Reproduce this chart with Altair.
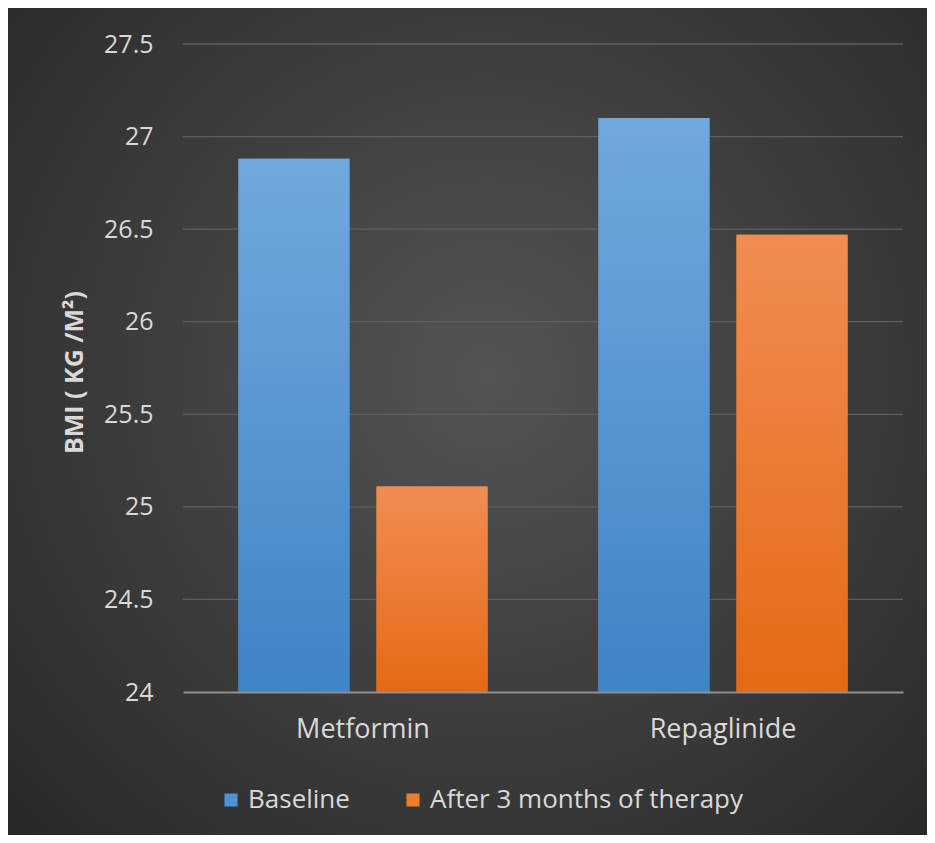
import altair as alt
import pandas as pd

# ---- data ----
drugs = ["Metformin", "Repaglinide"]
series = ["Baseline", "After 3 months of therapy"]
baseline = [26.88, 27.10]
after = [25.11, 26.47]
y_ticks = [24, 24.5, 25, 25.5, 26, 26.5, 27, 27.5]

rows = []
for i, d in enumerate(drugs):
    rows.append({"drug": d, "series": series[0], "bmi": baseline[i]})
    rows.append({"drug": d, "series": series[1], "bmi": after[i]})
df = pd.DataFrame(rows)
grid_df = pd.DataFrame({"bmi": y_ticks[1:]})
bg_df = pd.DataFrame({"one": [1]})

W, H = 720, 648
PL, PT, PR, PB = 175, 36, 24, 143
FONT = "Open Sans"
TXT = "#d9d9d9"

bg_grad = alt.RadialGradient(
    gradient="radial",
    stops=[alt.GradientStop(color="#545454", offset=0),
           alt.GradientStop(color="#262626", offset=1)],
    x1=0.52, y1=0.45, r1=0, x2=0.52, y2=0.45, r2=0.75,
)
blue_grad = alt.LinearGradient(
    gradient="linear",
    stops=[alt.GradientStop(color="#71a8dd", offset=0),
           alt.GradientStop(color="#3f84c6", offset=1)],
    x1=0, y1=0, x2=0, y2=1,
)
orange_grad = alt.LinearGradient(
    gradient="linear",
    stops=[alt.GradientStop(color="#f18c53", offset=0),
           alt.GradientStop(color="#e46a14", offset=1)],
    x1=0, y1=0, x2=0, y2=1,
)

y_enc = alt.Y(
    "bmi:Q",
    scale=alt.Scale(domain=[24, 27.5], nice=False, zero=False),
    axis=alt.Axis(
        values=y_ticks, format=".1~f", domain=False, ticks=False, grid=False,
        labelPadding=30, labelFontSize=25, labelColor=TXT, labelFont=FONT,
        title="BMI ( KG /M²)", titleFontSize=25, titleFontWeight="bold",
        titleColor=TXT, titleFont=FONT, titleAngle=270, titleX=-109, titleY=H / 2 + 4,
        titleAlign="center", titleBaseline="middle", zindex=1,
    ),
)
x_enc = alt.X(
    "drug:N", sort=drugs,
    scale=alt.Scale(paddingInner=0.308, paddingOuter=0.154),
    axis=alt.Axis(
        title=None, labelAngle=0, ticks=False, grid=False, domain=True,
        domainColor="#8f8f8f", domainWidth=2, labelFontSize=27, labelColor=TXT,
        labelFont=FONT, labelPadding=24, zindex=1,
    ),
)
xo_enc = alt.XOffset("series:N", sort=series,
                     scale=alt.Scale(paddingInner=0.196, paddingOuter=0))

bg = alt.Chart(bg_df).mark_rect(fill=bg_grad, strokeWidth=0).encode(
    x=alt.value(-PL), x2=alt.value(W + PR), y=alt.value(-PT), y2=alt.value(H + PB)
)

rules = alt.Chart(grid_df).mark_rule(color="#5e5e5e", strokeWidth=1.3).encode(y=y_enc)

base = alt.Chart(df).encode(x=x_enc, xOffset=xo_enc, y=y_enc, y2=alt.datum(24))

bars = base.mark_bar().encode(
    color=alt.Color(
        "series:N", sort=series,
        scale=alt.Scale(domain=series, range=["#4f93d6", "#ef7d2e"]),
        legend=alt.Legend(
            title=None, orient="none", legendX=35, legendY=743,
            direction="horizontal", symbolType="square", symbolSize=169,
            symbolStrokeWidth=0, labelFontSize=26, labelColor=TXT, labelFont=FONT,
            labelOffset=4, columnPadding=50, padding=0, labelLimit=600,
        ),
    )
)
blue_bars = base.transform_filter(alt.datum.series == series[0]).mark_bar(fill=blue_grad)
orange_bars = base.transform_filter(alt.datum.series == series[1]).mark_bar(fill=orange_grad)

chart = (
    alt.layer(bg, rules, bars, blue_bars, orange_bars)
    .properties(
        width=W, height=H,
        autosize=alt.AutoSizeParams(type="none"),
        padding={"left": PL, "top": PT, "right": PR, "bottom": PB},
        background="#2b2b2b",
    )
    .configure_view(stroke=None)
)

chart.save("out.html", embed_options={"renderer": "svg", "actions": False})
